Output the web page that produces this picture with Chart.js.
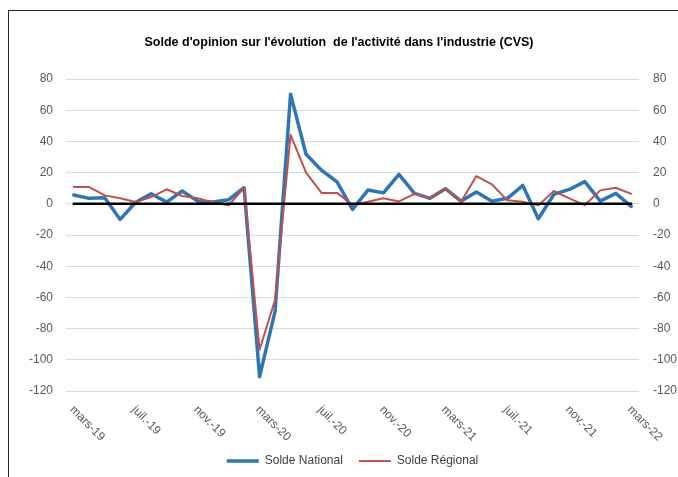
<!DOCTYPE html>
<html>
<head>
<meta charset="utf-8">
<script src="https://cdn.jsdelivr.net/npm/chart.js@4.4.1/dist/chart.umd.min.js"></script>
<style>
  html, body { margin: 0; padding: 0; background: #fff; overflow: hidden; }
  #wrap { position: relative; width: 678px; height: 477px; }
  #frame { position: absolute; left: 8px; top: 10px; width: 720px; height: 520px; border-top: 1px solid #262626; border-left: 1px solid #262626; pointer-events: none; }
</style>
</head>
<body>
<div id="wrap">
  <canvas id="c" width="678" height="477"></canvas>
  <div id="frame"></div>
</div>
<script>
const months = [
  "mars-19","avr.-19","mai-19","juin-19","juil.-19","août-19","sept.-19","oct.-19","nov.-19","déc.-19","janv.-20","févr.-20",
  "mars-20","avr.-20","mai-20","juin-20","juil.-20","août-20","sept.-20","oct.-20","nov.-20","déc.-20","janv.-21","févr.-21",
  "mars-21","avr.-21","mai-21","juin-21","juil.-21","août-21","sept.-21","oct.-21","nov.-21","déc.-21","janv.-22","févr.-22",
  "mars-22"
];
const soldeNational = [
  5.6, 3.5, 3.9, -10, 1, 6.4, 1.1, 8.2, 1.7, 1.1, 2.6, 10.3,
  -110.8, -69, 70.3, 31.8, 21.5, 14, -3.6, 8.8, 7, 18.9, 6.7, 3.5,
  9.7, 1.7, 7.5, 1.7, 3.5, 11.8, -9.6, 6, 9.2, 14.2, 1.7, 6.7,
  -1.7
];
const soldeRegional = [
  10.7, 10.7, 5.4, 3.5, 1.1, 4.3, 9.3, 5, 3.5, 0.9, -1, 10.3,
  -93.6, -61.5, 44.2, 20, 7, 7, -0.8, 1.3, 3.5, 1.5, 6.4, 3.5,
  9.7, 1.1, 17.8, 12.5, 2.2, 1.3, -1, 8.2, 3.5, -0.8, 8.6, 10.3,
  6.4
];
const zeroLine = months.map(() => 0);
const shownLabelStep = 4;
const yMin = -120, yMax = 80, yStep = 20;
const titleText = "Solde d'opinion sur l'évolution  de l'activité dans l'industrie (CVS)";

const FONT = "'Liberation Sans', Arial, sans-serif";

const xLabelPlugin = {
  id: 'xLabels',
  afterDraw(chart) {
    const ctx = chart.ctx;
    const xs = chart.scales.x;
    const bottom = chart.chartArea.bottom;
    ctx.save();
    ctx.font = "12px " + FONT;
    ctx.fillStyle = "#595959";
    ctx.textAlign = "left";
    ctx.textBaseline = "middle";
    for (let i = 0; i < months.length; i += shownLabelStep) {
      const x = xs.getPixelForValue(i);
      ctx.save();
      ctx.translate(x - 2, bottom + 17);
      ctx.rotate(Math.PI / 4);
      ctx.fillText(months[i], 0, 0);
      ctx.restore();
    }
    ctx.restore();
  }
};

new Chart(document.getElementById('c'), {
  type: 'line',
  data: {
    labels: months,
    datasets: [
      { label: 'Zéro', data: zeroLine, borderColor: '#000000', borderWidth: 2.5, pointRadius: 0, order: 0 },
      { label: 'Solde National', data: soldeNational, borderColor: '#2E75B6', backgroundColor: '#2E75B6', borderWidth: 3.5, pointRadius: 0, order: 2 },
      { label: 'Solde Régional', data: soldeRegional, borderColor: '#C0504D', backgroundColor: '#C0504D', borderWidth: 2, pointRadius: 0, order: 1 }
    ]
  },
  options: {
    responsive: false,
    animation: false,
    devicePixelRatio: 1,
    layout: { padding: { left: 0, right: 0, top: 0, bottom: 0 } },
    elements: { line: { tension: 0, borderJoinStyle: 'round', borderCapStyle: 'round' } },
    plugins: {
      title: {
        display: true,
        text: titleText,
        color: '#000000',
        font: { family: FONT, size: 12.5, weight: 'bold' },
        padding: { top: 35, bottom: 29 }
      },
      legend: {
        position: 'bottom',
        fullSize: false,
        labels: {
          filter: (item) => item.datasetIndex !== 0,
          sort: (a, b) => a.datasetIndex - b.datasetIndex,
          usePointStyle: true,
          pointStyle: 'line',
          pointStyleWidth: 32,
          padding: 16,
          color: '#404040',
          font: { family: FONT, size: 12 }
        }
      },
      tooltip: { enabled: false }
    },
    scales: {
      x: {
        type: 'category',
        offset: true,
        grid: { display: false },
        border: { display: false },
        ticks: { display: false },
        afterFit: (s) => { s.height = 48; }
      },
      y: {
        position: 'left',
        min: yMin, max: yMax,
        grid: { color: '#d9d9d9', lineWidth: 1, drawTicks: false },
        border: { display: false },
        ticks: { stepSize: yStep, padding: 13, color: '#595959', font: { family: FONT, size: 12 } },
        afterFit: (s) => { s.width = 66; }
      },
      y2: {
        position: 'right',
        min: yMin, max: yMax,
        grid: { display: false, drawTicks: false },
        border: { display: false },
        ticks: { stepSize: yStep, padding: 14, color: '#595959', font: { family: FONT, size: 12 } },
        afterFit: (s) => { s.width = 39; }
      }
    }
  },
  plugins: [xLabelPlugin]
});
</script>
</body>
</html>
